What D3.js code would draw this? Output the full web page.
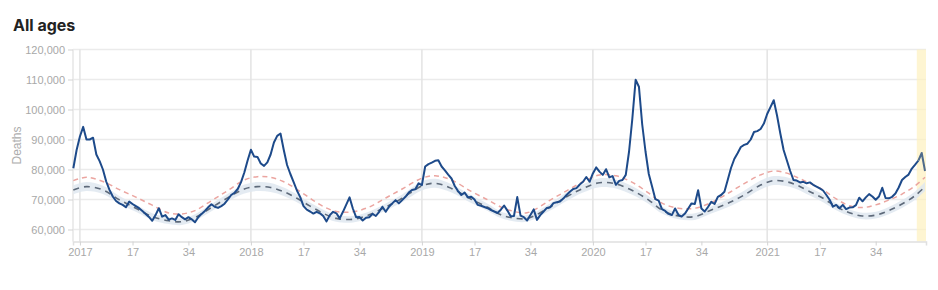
<!DOCTYPE html>
<html>
<head>
<meta charset="utf-8">
<script src="https://cdn.jsdelivr.net/npm/d3@7"></script>
<style>
  body { margin: 0; background: #fff; }
  svg text { font-family: "Liberation Sans", Arial, sans-serif; }
</style>
</head>
<body>
<div id="chart"></div>
<script>
// weekly deaths, index 0 of the array is 2016 week 51 (week index -2)
const firstWeek = -2;
const deaths = [
  80400, 86500, 91000, 94200, 90000, 90000, 90600, 85000, 82800, 80000,
  76000, 73200, 71000, 69500, 68700, 68200, 67400, 69300, 68500, 67800,
  67100, 66200, 65200, 64200, 62900, 64800, 67100, 64300, 64800, 63300,
  63700, 63200, 65100, 64100, 63400, 64100, 63400, 62400, 64100, 65200,
  66200, 67400, 68400, 67600, 67200, 67800, 68600, 70000, 71500, 72200,
  73500, 75800, 79000, 83000, 86600, 84300, 84200, 82000, 81200, 82400,
  85000, 89000, 91200, 92000, 86500, 81500, 78500, 75800, 73000, 70800,
  67800, 66600, 66000, 65300, 65900, 65400, 64500, 62700, 64800, 65900,
  65400, 63700, 65900, 68300, 70700, 67000, 64100, 64200, 63000, 63900,
  64100, 65200, 64500, 65900, 67600, 65900, 67600, 68700, 69800, 68700,
  69800, 70900, 72300, 73200, 73400, 75400, 74800, 81000, 81800, 82300,
  82900, 83100, 81000, 79700, 78300, 77000, 74500, 72800, 71500, 72300,
  70700, 70900, 70000, 68200, 67900, 67500, 67100, 66500, 66000, 65500,
  66600, 68000, 66300, 64400, 64500, 70800, 64600, 64100, 63000, 64800,
  66700, 63200, 64800, 66000, 67200, 67400, 68800, 69100, 69300, 70300,
  71500, 72600, 73500, 73800, 75000, 75900, 77500, 75900, 78700, 80700,
  79300, 78200, 80100, 77400, 77800, 74900, 76200, 76500, 78200, 86000,
  97000, 109900, 107600, 95000, 86000, 78500, 74300, 70100, 69600, 66800,
  66200, 65200, 64800, 67000, 64900, 64300, 65300, 67000, 68700, 68500,
  73100, 67000, 66000, 67500, 69200, 68500, 70900, 71500, 72600, 76500,
  80500, 83500, 85400, 87500, 88200, 88600, 90000, 92500, 92800, 93500,
  95300, 98500, 100800, 103100, 98000, 92000, 86500, 83000, 79500, 76500,
  76300, 75700, 75900, 75400, 75700, 74900, 74300, 73700, 73000, 71500,
  69900, 67600, 68200, 67100, 68200, 66800, 67300, 67400, 68100, 70600,
  69400, 70700, 71800, 71000, 69900, 71000, 73900, 70500, 70400, 70900,
  72000, 74000, 76500, 77500, 78300, 80300, 81600, 83000, 85500, 79500
];

// expected deaths and upper threshold, read at these week indexes
const expWeeks = [-2, 2, 7, 12, 17, 22, 27, 31, 35, 40, 45, 50, 54, 58, 62, 66, 70, 74, 78, 83,
  88, 93, 98, 104, 108, 113, 119, 124, 128, 131, 136, 143, 148, 153, 158, 163, 168, 173, 177, 182,
  187, 192, 197, 202, 207, 211, 215, 218, 222, 226, 230, 234, 238, 242, 246, 250, 254, 257];
const expected = [73200, 74300, 73200, 69900, 67100, 64300, 62900, 62600, 64000, 67300,
  70600, 73500, 74300, 74000, 72600, 70400, 67800, 65400, 63700, 63400,
  64900, 67500, 70400, 74500, 75400, 73700, 70100, 67400, 64900, 64000,
  63700, 67500, 70900, 73700, 75600, 75200, 73000, 69800, 66500, 64500,
  64300, 66500, 68700, 71500, 74800, 76300, 75900, 74800, 72600, 70400,
  67600, 65600, 64500, 64800, 66300, 68500, 71300, 74300];
const threshold = [76300, 77400, 76000, 73300, 70800, 68100, 65500, 65200, 66300, 69600,
  73000, 76500, 77600, 77400, 75900, 73400, 70400, 67700, 66000, 65900,
  67500, 70500, 73500, 77100, 77900, 76500, 72700, 69900, 67500, 66300,
  65600, 69800, 72900, 75900, 78200, 77900, 75700, 72100, 68800, 67100,
  67100, 69000, 72000, 75300, 78200, 79500, 78800, 77400, 75400, 73200,
  70200, 67900, 67300, 68200, 69800, 71800, 74600, 77400];
const bandLow = [71700, 72800, 71800, 68600, 65900, 63200, 61800, 61500, 62900, 66100,
  69300, 72000, 72800, 72500, 71200, 69100, 66600, 64200, 62600, 62300,
  63800, 66300, 69100, 73000, 73900, 72300, 68800, 66200, 63800, 62900,
  62600, 66300, 69500, 72300, 74100, 73700, 71600, 68500, 65300, 63400,
  63200, 65300, 67400, 70100, 73300, 74800, 74400, 73400, 71300, 69100,
  66400, 64500, 63400, 63700, 65100, 67200, 69900, 72800];
const bandHigh = [74700, 75800, 74600, 71200, 68300, 65400, 64000, 63700, 65100, 68500,
  71900, 75000, 75800, 75500, 74000, 71700, 69000, 66600, 64800, 64500,
  66000, 68700, 71700, 76000, 76900, 75100, 71400, 68600, 66000, 65100,
  64800, 68700, 72300, 75100, 77100, 76700, 74400, 71100, 67700, 65600,
  65400, 67700, 70000, 72900, 76300, 77800, 77400, 76200, 73900, 71700,
  68800, 66700, 65600, 65900, 67500, 69800, 72700, 75800];

const yTicks = [60000, 70000, 80000, 90000, 100000, 110000, 120000];
const xTickWeeks = [0, 16, 33, 52, 68, 85, 104, 120, 137, 156, 172, 189, 209, 225, 242];
const xTickLabels = ["2017", "17", "34", "2018", "17", "34", "2019", "17", "34",
  "2020", "17", "34", "2021", "17", "34"];
const yearWeeks = [0, 52, 104, 156, 209];
const partialFrom = 254.5; // last weeks, data still coming in

const width = 938, height = 290;
const margin = { top: 49.5, right: 12, bottom: 48.5, left: 73 };

const svg = d3.select("#chart").append("svg")
  .attr("width", width)
  .attr("height", height)
  .attr("viewBox", [0, 0, width, height]);

const x = d3.scaleLinear()
  .domain([-2.1, 257.3])
  .range([margin.left, width - margin.right]);

const y = d3.scaleLinear()
  .domain([56000, 120000])
  .range([height - margin.bottom, margin.top]);

const weekPts = deaths.map((v, i) => ({ week: i + firstWeek, value: v }));
const expPts = expWeeks.map((w, i) => ({
  week: w, exp: expected[i], thr: threshold[i], lo: bandLow[i], hi: bandHigh[i]
}));

svg.append("text")
  .attr("x", 13)
  .attr("y", 30.5)
  .attr("font-size", 16)
  .attr("font-weight", 700)
  .attr("fill", "#222")
  .style("font-family", "Inter, 'Open Sans', sans-serif")
  .text("All ages");

// horizontal grid
svg.append("g")
  .selectAll("line")
  .data(yTicks)
  .join("line")
    .attr("x1", x.range()[0])
    .attr("x2", x.range()[1])
    .attr("y1", d => y(d))
    .attr("y2", d => y(d))
    .attr("stroke", "#ebebeb")
    .attr("stroke-width", 1.5);

// vertical grid at year starts + left edge
svg.append("g")
  .selectAll("line")
  .data(yearWeeks)
  .join("line")
    .attr("x1", d => x(d))
    .attr("x2", d => x(d))
    .attr("y1", y.range()[1])
    .attr("y2", y.range()[0])
    .attr("stroke", "#e3e3e3")
    .attr("stroke-width", 1.5);

svg.append("line")
  .attr("x1", x.range()[0]).attr("x2", x.range()[0])
  .attr("y1", y.range()[1]).attr("y2", y.range()[0])
  .attr("stroke", "#e6e6e6")
  .attr("stroke-width", 1.5);

// incomplete weeks highlight
svg.append("rect")
  .attr("x", x(partialFrom))
  .attr("y", y.range()[1])
  .attr("width", x.range()[1] - x(partialFrom))
  .attr("height", y.range()[0] - y.range()[1])
  .attr("fill", "#fdf1bf")
  .attr("opacity", 0.7);

// y axis
svg.append("g")
  .attr("transform", `translate(${x.range()[0]},0)`)
  .call(d3.axisLeft(y).tickValues(yTicks).tickSize(5).tickPadding(3).tickFormat(d3.format(",")))
  .call(g => g.select(".domain").remove())
  .call(g => g.selectAll(".tick line").attr("stroke", "#d3d3d3"))
  .call(g => g.selectAll("text").attr("fill", "#a8a8a8").attr("font-size", 11)
    .attr("font-family", null));

svg.append("text")
  .attr("transform", `translate(21,${(y.range()[0] + y.range()[1]) / 2}) rotate(-90)`)
  .attr("text-anchor", "middle")
  .attr("font-size", 12)
  .attr("fill", "#adadad")
  .text("Deaths");

// x axis
svg.append("g")
  .attr("transform", `translate(0,${y.range()[0]})`)
  .call(d3.axisBottom(x).tickValues(xTickWeeks).tickSize(4).tickPadding(3)
    .tickFormat((d, i) => xTickLabels[i]))
  .call(g => g.select(".domain").attr("stroke", "#e0e0e0").attr("stroke-width", 1.5))
  .call(g => g.selectAll(".tick line").attr("stroke", "#d3d3d3"))
  .call(g => g.selectAll("text").attr("fill", "#a8a8a8").attr("font-size", 11)
    .attr("font-family", null));

// expected range band
svg.append("path")
  .datum(expPts)
  .attr("fill", "#dfe7f0")
  .attr("opacity", 0.85)
  .attr("d", d3.area()
    .curve(d3.curveCatmullRom)
    .x(d => x(d.week))
    .y0(d => y(d.lo))
    .y1(d => y(d.hi)));

svg.append("path")
  .datum(expPts)
  .attr("fill", "none")
  .attr("stroke", "#eba5a0")
  .attr("stroke-width", 1.5)
  .attr("stroke-dasharray", "5,4")
  .attr("d", d3.line().curve(d3.curveCatmullRom).x(d => x(d.week)).y(d => y(d.thr)));

svg.append("path")
  .datum(expPts)
  .attr("fill", "none")
  .attr("stroke", "#5e6a7a")
  .attr("stroke-width", 1.6)
  .attr("stroke-dasharray", "6,5")
  .attr("d", d3.line().curve(d3.curveCatmullRom).x(d => x(d.week)).y(d => y(d.exp)));

// weekly deaths
const line = d3.line().x(d => x(d.week)).y(d => y(d.value));

svg.append("path")
  .datum(weekPts.filter(d => d.week <= Math.ceil(partialFrom)))
  .attr("fill", "none")
  .attr("stroke", "#1d4a8a")
  .attr("stroke-width", 2)
  .attr("stroke-linejoin", "round")
  .attr("d", line);

svg.append("path")
  .datum(weekPts.filter(d => d.week >= Math.floor(partialFrom) + 1))
  .attr("fill", "none")
  .attr("stroke", "#4f6b8c")
  .attr("stroke-width", 2)
  .attr("stroke-linejoin", "round")
  .attr("d", line);
</script>
</body>
</html>
